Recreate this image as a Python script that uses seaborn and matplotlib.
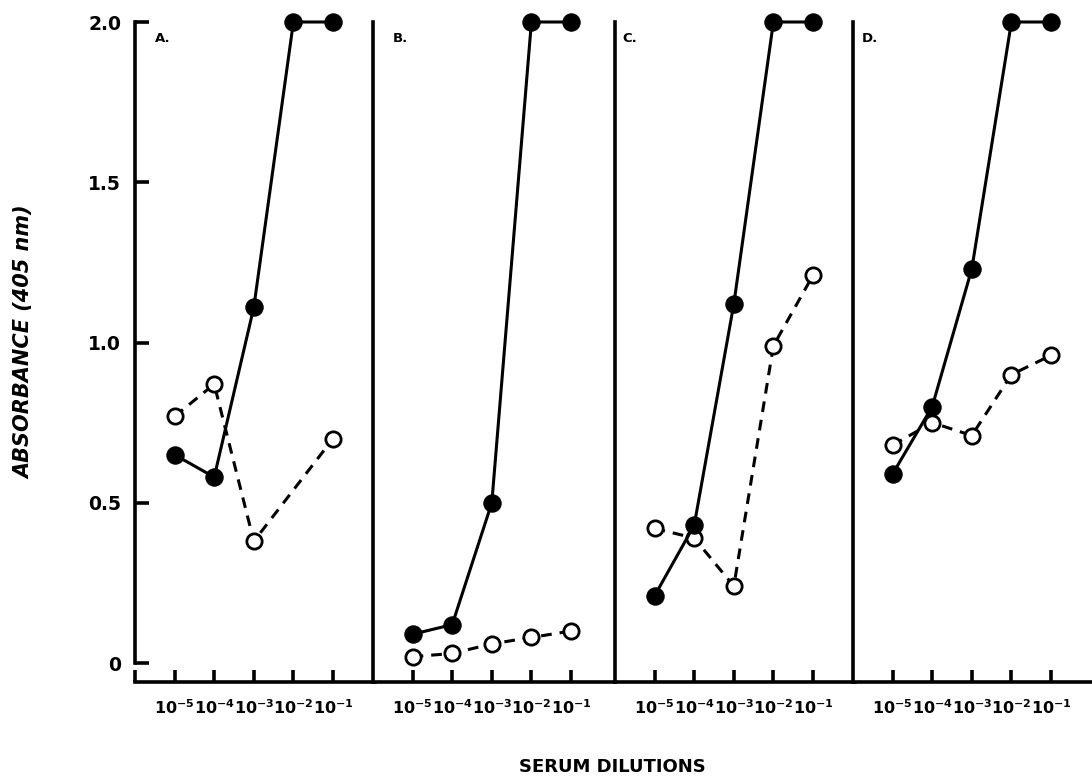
import matplotlib
matplotlib.use("Agg")
import matplotlib.pyplot as plt
import matplotlib.transforms as mtransforms
import numpy as np
import pandas as pd
import seaborn as sns

# Veriler
dilutions = ["10^{-5}", "10^{-4}", "10^{-3}", "10^{-2}", "10^{-1}"]
panels = ["A.", "B.", "C.", "D."]

filled_A = [0.65, 0.58, 1.11, 2.0, 2.0]
open_A = [0.77, 0.87, 0.38, np.nan, 0.70]
filled_B = [0.09, 0.12, 0.50, 2.0, 2.0]
open_B = [0.02, 0.03, 0.06, 0.08, 0.10]
filled_C = [0.21, 0.43, 1.12, 2.0, 2.0]
open_C = [0.42, 0.39, 0.24, 0.99, 1.21]
filled_D = [0.59, 0.80, 1.23, 2.0, 2.0]
open_D = [0.68, 0.75, 0.71, 0.90, 0.96]

y_ticks = [0, 0.5, 1.0, 1.5, 2.0]
y_ticklabels = ["0", "0.5", "1.0", "1.5", "2.0"]

filled = [filled_A, filled_B, filled_C, filled_D]
opened = [open_A, open_B, open_C, open_D]

sns.set_theme(style="white")
plt.rcParams["font.family"] = ["DejaVu Sans"]
plt.rcParams["mathtext.fontset"] = "dejavusans"
plt.rcParams["text.color"] = "black"
plt.rcParams["xtick.color"] = "black"
plt.rcParams["ytick.color"] = "black"
plt.rcParams["xtick.labelcolor"] = "black"
plt.rcParams["ytick.labelcolor"] = "black"

fig = plt.figure(figsize=(10.92, 7.8), dpi=100)

W, H = 1092, 780
lefts = [135, 373, 615, 853]
letter_off = [0.5, 0.5, 0.18, 0.22]
ax_w = 240
bottom_px, top_px = 682, 22

x_pos = np.arange(1, len(dilutions) + 1)

for i, name in enumerate(panels):
    ax = fig.add_axes([lefts[i] / W, 1 - bottom_px / H, ax_w / W, (bottom_px - top_px) / H])
    df = pd.DataFrame({"x": x_pos, "filled": filled[i], "open": opened[i]})

    # açık daireler (kesikli çizgi)
    sns.lineplot(data=df.dropna(subset=["open"]), x="x", y="open", ax=ax, color="black",
                 linestyle=(0, (3.5, 2.6)), linewidth=2.2, marker="o", markersize=11,
                 markerfacecolor="white", markeredgecolor="black", markeredgewidth=2.0,
                 clip_on=False, zorder=3)
    # dolu daireler (düz çizgi)
    sns.lineplot(data=df, x="x", y="filled", ax=ax, color="black", linewidth=2.2,
                 marker="o", markersize=12.5, markerfacecolor="black",
                 markeredgecolor="black", clip_on=False, zorder=4)

    ax.set_xlim(0, 6.06)
    ax.set_ylim(-0.059, 2.0)
    ax.set_xlabel("")
    ax.set_ylabel("")

    for s in ["top", "right"]:
        ax.spines[s].set_visible(False)
    for s in ["left", "bottom"]:
        ax.spines[s].set_color("black")
        ax.spines[s].set_linewidth(2.6)

    if i == 0:
        ax.spines["left"].set_bounds(0, 2.0)
        ax.set_yticks(y_ticks)
        ax.set_yticklabels(y_ticklabels, fontsize=13.5, fontweight="heavy")
        ax.tick_params(axis="y", left=True, direction="in", length=10, width=2.6, pad=10)
        ax.set_xticks([0] + list(x_pos))
        ax.set_xticklabels([""] + [r"$\mathbf{%s}$" % d for d in dilutions], fontsize=11.5)
    else:
        ax.set_yticks([])
        ax.set_xticks(x_pos)
        ax.set_xticklabels([r"$\mathbf{%s}$" % d for d in dilutions], fontsize=11.5)
    ax.tick_params(axis="x", bottom=True, direction="in", length=8.5, width=2.6, pad=12)

    trans = mtransforms.blended_transform_factory(ax.transData, ax.transData)
    ax.text(letter_off[i], 1.95, name, fontsize=9.5, fontweight="heavy", ha="left", va="center",
            transform=trans)

fig.text(24 / W, 1 - 342 / H, "ABSORBANCE (405 nm)", rotation=90, ha="center", va="center",
         fontsize=15, fontweight="bold", fontstyle="italic")
fig.text(612 / W, 1 - 767 / H, "SERUM DILUTIONS", ha="center", va="center",
         fontsize=13, fontweight="bold")

plt.savefig("out.png", dpi=100)
